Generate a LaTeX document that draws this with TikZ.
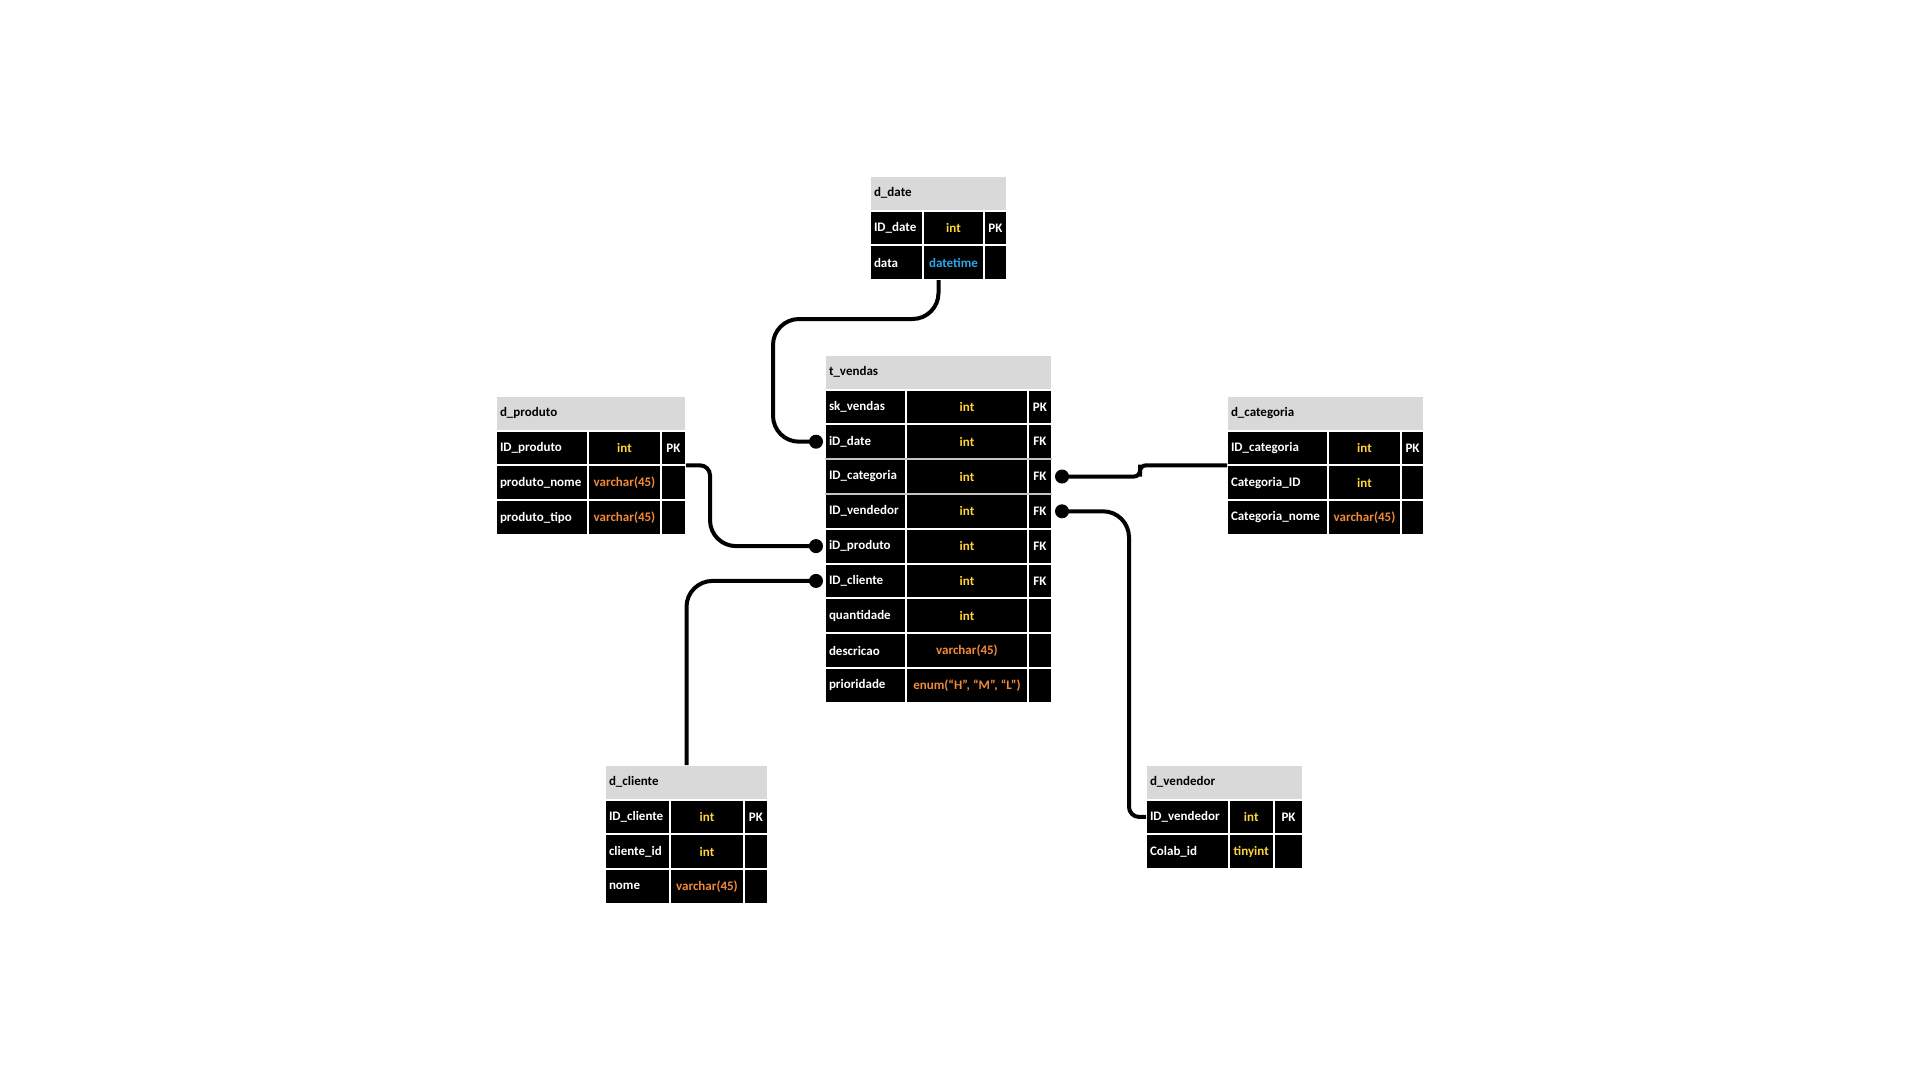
\documentclass[tikz,border=0pt]{standalone}
\usepackage{fontspec}
\setmainfont{Carlito}
\usetikzlibrary{calc}

\definecolor{hdgray}{HTML}{D9D9D9}
\definecolor{sepgray}{HTML}{C4C4C4}
\definecolor{tyint}{HTML}{FFD43A}
\definecolor{tyvar}{HTML}{F28A3A}
\definecolor{tydt}{HTML}{2EA8E8}

\newcommand{\yl}[1]{\textcolor{tyint}{#1}}
\newcommand{\og}[1]{\textcolor{tyvar}{#1}}
\newcommand{\bl}[1]{\textcolor{tydt}{#1}}

% header and row heights
\def\hdh{34.5}
\def\rowh{34.8}

\tikzset{
  cellfont/.style={font=\fontsize{13}{15}\selectfont\bfseries},
  hdcell/.style={cellfont, anchor=north west, fill=hdgray, draw=white, line width=2pt,
    inner xsep=4pt, inner ysep=0pt, outer sep=0pt, minimum height=\hdh pt, text=black, align=left},
  cell/.style={cellfont, anchor=north west, fill=black, draw=white, line width=2pt,
    inner xsep=4pt, inner ysep=0pt, outer sep=0pt, minimum height=\rowh pt, text=white},
  link/.style={line width=4pt, draw=black},
  fkdot/.style={circle, fill=black, minimum size=14pt, inner sep=0pt, outer sep=0pt},
}

% table header: name, left x, top y, column widths (3), title
\newcommand{\ertable}[7]{%
  \gdef\tn{#1}\gdef\tx{#2}\gdef\ty{#3}\gdef\wa{#4}\gdef\wb{#5}\gdef\wc{#6}%
  \pgfmathsetmacro\twh{#4+#5+#6-8}%
  \node[hdcell, text width=\twh pt] (#1-h) at (#2,#3) {#7};%
}
% table row: index, field, type, key
\newcommand{\erow}[4]{%
  \pgfmathsetmacro\ry{\ty+\hdh+(#1-1)*\rowh}%
  \pgfmathsetmacro\xb{\tx+\wa}%
  \pgfmathsetmacro\xc{\tx+\wa+\wb}%
  \pgfmathsetmacro\twa{\wa-8}%
  \node[cell, text width=\twa pt, align=left] (\tn-r#1-a) at (\tx,\ry) {#2};%
  \node[cell, minimum width=\wb pt, align=center] (\tn-r#1-b) at (\xb,\ry) {#3};%
  \node[cell, minimum width=\wc pt] (\tn-r#1-c) at (\xc,\ry) {#4};%
}

\begin{document}
\begin{tikzpicture}[x=1pt,y=-1pt]
\fill[white] (0,0) rectangle (1920,1080);
\useasboundingbox (0,0) rectangle (1920,1080);

% d_date
\ertable{date}{870}{176}{53}{61}{23}{d\_date}
\erow{1}{ID\_date}{\yl{int}}{PK}
\erow{2}{data}{\bl{datetime}}{}

% t_vendas
\ertable{vendas}{825}{355}{81}{122}{24}{t\_vendas}
\erow{1}{sk\_vendas}{\yl{int}}{PK}
\erow{2}{iD\_date}{\yl{int}}{FK}
\erow{3}{ID\_categoria}{\yl{int}}{FK}
\erow{4}{ID\_vendedor}{\yl{int}}{FK}
\erow{5}{iD\_produto}{\yl{int}}{FK}
\erow{6}{ID\_cliente}{\yl{int}}{FK}
\erow{7}{quantidade}{\yl{int}}{}
\erow{8}{descricao}{\og{varchar(45)}}{}
\erow{9}{prioridade}{\og{enum(“H”, “M”, “L”)}}{}
\draw[line width=2pt, sepgray] (vendas-r2-a.south west) -- (vendas-r2-c.south east);
\draw[line width=2pt, sepgray] (vendas-r3-a.south west) -- (vendas-r3-c.south east);

% d_produto
\ertable{prod}{496}{396}{92}{73}{25}{d\_produto}
\erow{1}{ID\_produto}{\yl{int}}{PK}
\erow{2}{produto\_nome}{\og{varchar(45)}}{}
\erow{3}{produto\_tipo}{\og{varchar(45)}}{}

% d_categoria
\ertable{cat}{1227}{396}{101}{73}{23}{d\_categoria}
\erow{1}{ID\_categoria}{\yl{int}}{PK}
\erow{2}{Categoria\_ID}{\yl{int}}{}
\erow{3}{Categoria\_nome}{\og{varchar(45)}}{}

% d_cliente
\ertable{cli}{605}{765}{65}{74}{24}{d\_cliente}
\erow{1}{ID\_cliente}{\yl{int}}{PK}
\erow{2}{cliente\_id}{\yl{int}}{}
\erow{3}{nome}{\og{varchar(45)}}{}

% d_vendedor
\ertable{ven}{1146}{765}{82.5}{45.5}{29}{d\_vendedor}
\erow{1}{ID\_vendedor}{\yl{int}}{PK}
\erow{2}{Colab\_id}{\yl{tinyint}}{}

% foreign key end points
\node[fkdot] (dot-date) at ($(vendas-r2-a.west)+(-9,0)$) {};
\node[fkdot] (dot-cat)  at ($(vendas-r3-c.east)+(10,0)$) {};
\node[fkdot] (dot-ven)  at ($(vendas-r4-c.east)+(10,0)$) {};
\node[fkdot] (dot-prod) at ($(vendas-r5-a.west)+(-9,0)$) {};
\node[fkdot] (dot-cli)  at ($(vendas-r6-a.west)+(-9,0)$) {};

% relationships
\coordinate (date-bend) at (773,319);
\draw[link, rounded corners=26] (date-h.south |- date-r2-b.south) |- (date-bend) |- (dot-date.center);
\draw[link] (prod-r1-c.south east) [rounded corners=10] -| ($(prod-r1-c.south east)+(24,40)$)
  [rounded corners=26] |- (dot-prod.center);
\draw[link, rounded corners=26] (cli-h.north) |- (dot-cli.center);
\draw[link, rounded corners=6] (dot-cat.center) -| ($(dot-cat)+(78,-6)$) |- (cat-r1-a.south west);
\draw[link] (dot-ven.center) [rounded corners=26] -| ($(dot-ven)+(67,100)$)
  [rounded corners=10] |- (ven-r1-a.west);
\end{tikzpicture}
\end{document}
